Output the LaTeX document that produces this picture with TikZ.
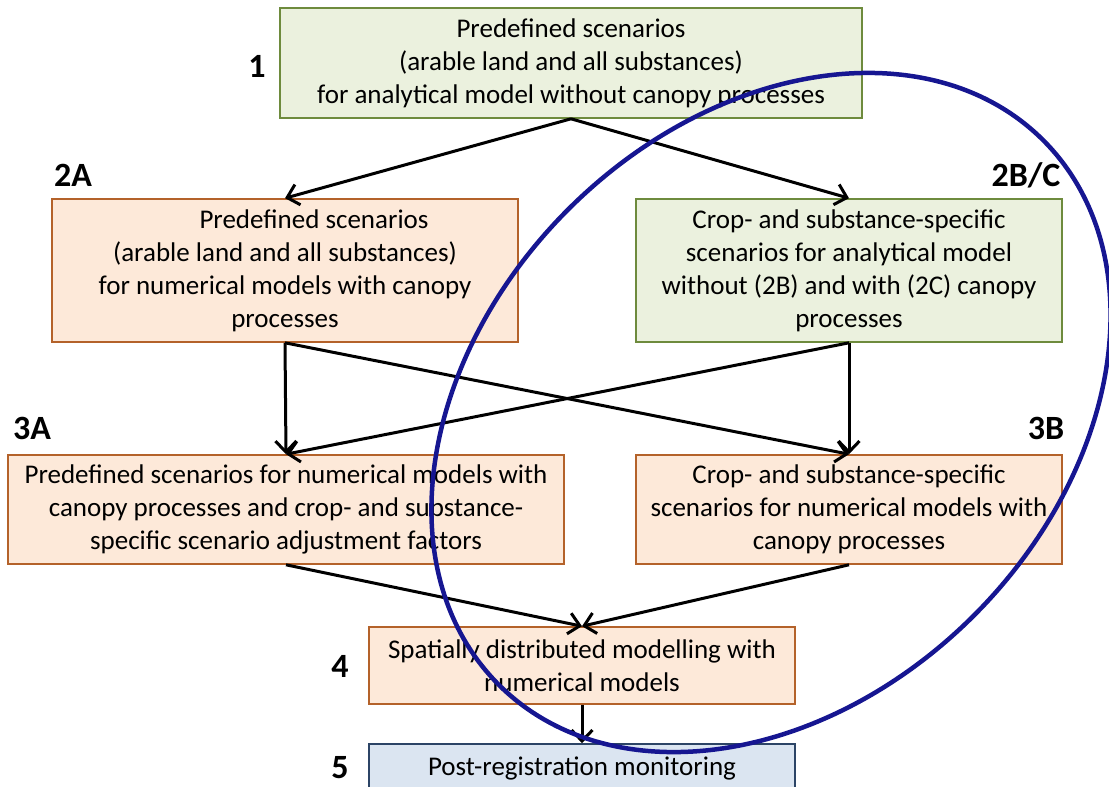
\documentclass[tikz,border=0pt]{standalone}
\usepackage{fontspec}
\setmainfont{Carlito}
\usetikzlibrary{arrows.meta, positioning}
\definecolor{greenfill}{HTML}{EBF1DE}
\definecolor{greenline}{HTML}{6E8B3D}
\definecolor{orangefill}{HTML}{FDE9D9}
\definecolor{orangeline}{HTML}{B4622A}
\definecolor{bluefill}{HTML}{DBE5F1}
\definecolor{blueline}{HTML}{2C4466}
\definecolor{ringblue}{RGB}{22,22,145}
\tikzset{
    x=1pt, y=-1pt, % one unit is one pixel of the sketch
    box/.style={draw, line width=1.6pt, align=center, inner sep=0pt,
        font=\fontsize{27}{33}\selectfont}, % common look of all scenario boxes
    greenbox/.style={box, fill=greenfill, draw=greenline},
    orangebox/.style={box, fill=orangefill, draw=orangeline},
    bluebox/.style={box, fill=bluefill, draw=blueline},
    tier/.style={font=\fontsize{34}{40}\selectfont\bfseries}, % the tier numbers
    flow/.style={-{Straight Barb[length=11pt, width=21pt, line width=3pt]}, line width=3pt}, % arrows between boxes
}
\begin{document}
\begin{tikzpicture}
\useasboundingbox (0,0) rectangle (1109,787);
\node[greenbox, minimum width=582, minimum height=110] (pre1) at (571,63)
    {Predefined scenarios\\(arable land and all substances)\\for analytical model without canopy processes};
\node[orangebox, minimum width=466, minimum height=143] (pre2a) at (285,270.5)
    {\hspace*{58pt}Predefined scenarios\\(arable land and all substances)\\for numerical models with canopy\\processes};
\node[greenbox, minimum width=426, minimum height=143] (spec2bc) at (849,270.5)
    {Crop- and substance-specific\\scenarios for analytical model\\without (2B) and with (2C) canopy\\processes};
\node[orangebox, minimum width=556, minimum height=109] (pre3a) at (286,509.5)
    {Predefined scenarios for numerical models with\\canopy processes and crop- and substance-\\specific scenario adjustment factors};
\node[orangebox, minimum width=426, minimum height=109] (spec3b) at (849,509.5)
    {Crop- and substance-specific\\scenarios for numerical models with\\canopy processes};
\node[orangebox, minimum width=426, minimum height=77] (spat4) at (582,665.5)
    {Spatially distributed modelling with\\numerical models};
\node[bluebox, minimum width=426, minimum height=48] (mon5) at (582,768)
    {Post-registration monitoring};
% tier numbers
\node[tier] (t1) at (257,66) {1};
\node[tier] (t2a) at (73,175) {2A};
\node[tier] (t2bc) at (1026,175) {2B/C};
\node[tier] (t3a) at (32,428) {3A};
\node[tier] (t3b) at (1046,428) {3B};
\node[tier] (t4) at (340,666) {4};
\node[tier] (t5) at (340,768) {5};
% connectors
\draw[flow] (pre1.south) -- (pre2a.north);
\draw[flow] (pre1.south) -- (spec2bc.north);
\draw[flow] (pre2a.south) -- (pre3a.north);
\draw[flow] (pre2a.south) -- (spec3b.north);
\draw[flow] (spec2bc.south) -- (pre3a.north);
\draw[flow] (spec2bc.south) -- (spec3b.north);
\draw[flow] (pre3a.south) -- (spat4.north);
\draw[flow] (spec3b.south) -- (spat4.north);
\draw[flow] (spat4.south) -- (mon5.north);
% the ring round the crop- and substance-specific route
\draw[ringblue, line width=4.5pt, rotate around={45:(771,412.5)}]
    (771,412.5) ellipse [x radius=385pt, y radius=287pt];
\end{tikzpicture}
\end{document}
